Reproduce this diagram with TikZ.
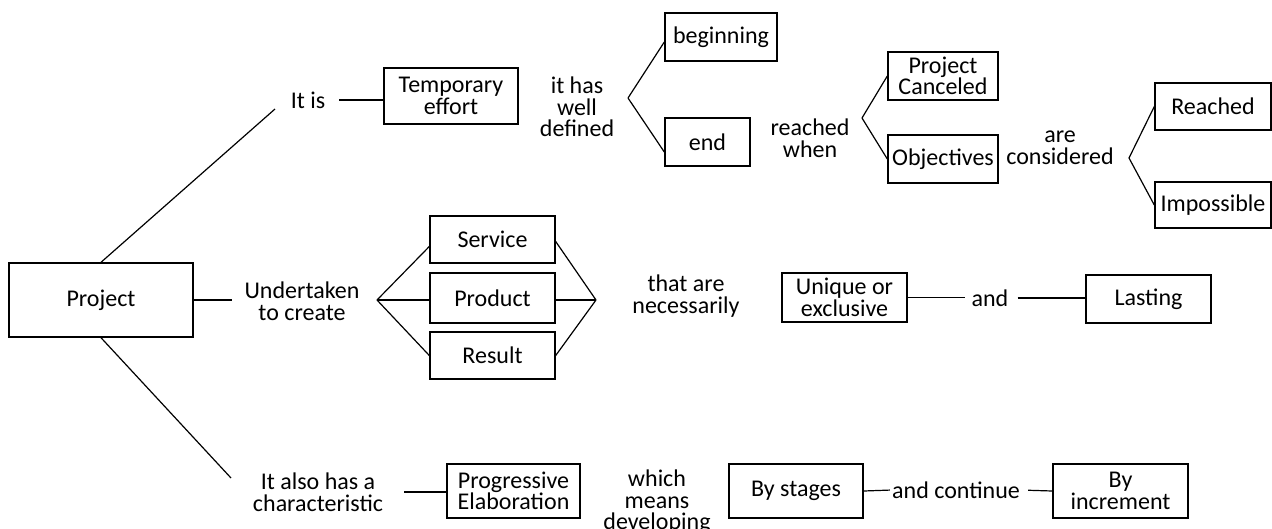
\documentclass[tikz,border=0pt]{standalone}
\usepackage{fontspec}
\setmainfont{Carlito}
\begin{document}
\begin{tikzpicture}[x=1pt,y=-1pt,
  every node/.style={font=\fontsize{24}{21.5}\selectfont},
  box/.style={draw,line width=1.4pt,align=center,inner sep=0pt},
  lbl/.style={align=center,inner sep=0pt},
  conn/.style={line width=1.2pt}]
\useasboundingbox (0,0) rectangle (1272,528);
\clip (0,0) rectangle (1272,528);
% boxes
\node[box,minimum width=184pt,minimum height=74pt] (project) at (101,300) {Project};
\node[box,minimum width=134pt,minimum height=56pt] (temp) at (451,96) {Temporary\\effort};
\node[box,minimum width=112pt,minimum height=48pt] (beg) at (721,37) {beginning};
\node[box,minimum width=85pt,minimum height=48pt] (endbox) at (707.5,142) {end};
\node[box,minimum width=110pt,minimum height=48pt] (canc) at (943,76) {Project\\Canceled};
\node[box,minimum width=110pt,minimum height=48pt] (obj) at (943,159) {Objectives};
\node[box,minimum width=116pt,minimum height=47pt] (reach) at (1213,106.5) {Reached};
\node[box,minimum width=116pt,minimum height=46pt] (imp) at (1213,205) {Impossible};
\node[box,minimum width=125pt,minimum height=47pt] (serv) at (492.5,239.5) {Service};
\node[box,minimum width=125pt,minimum height=50pt] (prod) at (492.5,298) {Product};
\node[box,minimum width=125pt,minimum height=47pt] (res) at (492.5,355.5) {Result};
\node[box,minimum width=125pt,minimum height=49pt] (uniq) at (844.5,297.5) {Unique or\\exclusive};
\node[box,minimum width=125pt,minimum height=48pt] (last) at (1148.5,299) {Lasting};
\node[box,minimum width=133pt,minimum height=54pt] (prog) at (513.5,491) {Progressive\\Elaboration};
\node[box,minimum width=134pt,minimum height=54pt] (stages) at (796,491) {By stages};
\node[box,minimum width=135pt,minimum height=54pt] (incr) at (1120.5,491) {By\\increment};
% labels
\node[lbl] (itis) at (308,100) {It is};
\node[lbl] (hasdef) at (577,107) {it has\\well\\defined};
\node[lbl] (rwhen) at (810,138) {reached\\when};
\node[lbl] (arecons) at (1060,148) {are\\considered};
\node[lbl] (under) at (302,301) {Undertaken\\to create};
\node[lbl] (thatare) at (686,296) {that are\\necessarily};
\node[lbl] (and1) at (990,298) {and};
\node[lbl] (also) at (318,492) {It also has a\\characteristic};
\node[lbl] (which) at (657,502) {which\\means\\developing};
\node[lbl] (andc) at (956,490) {and continue};
% junction points
\coordinate (v1) at (628,98);
\coordinate (v2) at (862,118);
\coordinate (v3) at (1129,158);
\coordinate (vl) at (377,300);
\coordinate (vr) at (596,300);
\coordinate (up) at (275,109);
\coordinate (down) at (231,478);
% connectors
\draw[conn] (project.north) -- (up);
\draw[conn] (project.south) -- (down);
\draw[conn,shorten >=12pt] (project.east) -- (under.west |- project.east);
\draw[conn,shorten <=14pt] (itis.east) -- (itis.east -| temp.west);
\draw[conn] (v1) -- ([yshift=-5pt]beg.west);
\draw[conn] (v1) -- ([yshift=-10pt]endbox.west);
\draw[conn] (v2) -- (canc.west);
\draw[conn] (v2) -- (obj.west);
\draw[conn] (v3) -- (reach.west);
\draw[conn] (v3) -- (imp.west);
\draw[conn] (vl) -- ([yshift=-7pt]serv.west);
\draw[conn] (vl) -- (prod.west |- vl);
\draw[conn] (vl) -- (res.west);
\draw[conn] ([yshift=-2pt]serv.east) -- (vr);
\draw[conn] (prod.east |- vr) -- (vr);
\draw[conn] (res.east) -- (vr);
\draw[conn,shorten >=6pt] (uniq.east) -- (uniq.east -| and1.west);
\draw[conn,shorten <=9pt] (and1.east) -- (and1.east -| last.west);
\draw[conn,shorten <=21pt] (also.east) -- (also.east -| prog.west);
\draw[conn,shorten >=2pt] (stages.east) -- (andc.west);
\draw[conn,shorten <=8pt] (andc.east) -- (incr.west);
\end{tikzpicture}
\end{document}
